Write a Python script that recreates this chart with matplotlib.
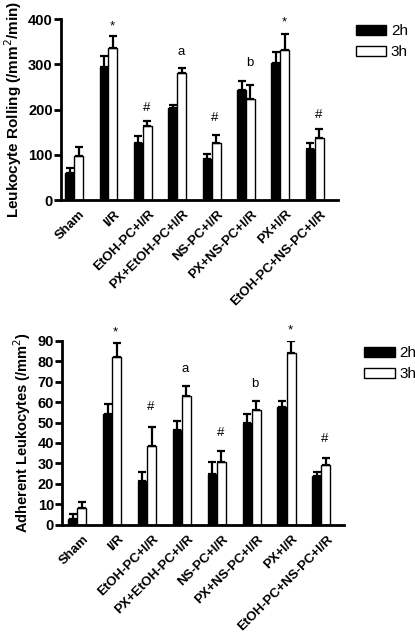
import numpy as np
import matplotlib
matplotlib.use("Agg")
import matplotlib.pyplot as plt

plt.rcParams['font.family'] = ['Liberation Sans', 'DejaVu Sans']

groups = ["Sham", "I/R", "EtOH-PC+I/R", "PX+EtOH-PC+I/R", "NS-PC+I/R",
          "PX+NS-PC+I/R", "PX+I/R", "EtOH-PC+NS-PC+I/R"]

# Leukocyte rolling (/mm2/min)
roll_2h = [60, 294, 125, 204, 91, 243, 303, 112]
roll_2h_err = [10, 25, 16, 7, 11, 21, 25, 15]
roll_3h = [98, 337, 163, 280, 127, 224, 331, 136]
roll_3h_err = [20, 25, 12, 11, 17, 31, 36, 21]
roll_marks = ["", "*", "#", "a", "#", "b", "*", "#"]
roll_mark_y = [0, 384, 203, 327, 181, 303, 393, 188]

# Adherent leukocytes (/mm2)
adh_2h = [3, 54, 21.5, 46.3, 25, 49.6, 57.7, 23.8]
adh_2h_err = [2.5, 5, 4.5, 4.5, 5.5, 4.5, 2.8, 2.2]
adh_3h = [8, 82, 38.5, 63, 30.8, 56, 83.8, 29.2]
adh_3h_err = [3.2, 6.7, 9.5, 5, 5.2, 4.7, 6.2, 3.3]
adh_marks = ["", "*", "#", "a", "#", "b", "*", "#"]
adh_mark_y = [0, 94, 57.7, 76, 45, 69, 95, 42]

fig = plt.figure(figsize=(4.15, 6.38), dpi=100)


def panel(rect, v2, e2, v3, e3, marks, mark_y, ylim, yticks, ylabel, ylabel_size,
          xlim, leg_anchor):
    ax = fig.add_axes(rect)
    x = np.arange(len(groups))
    w = 0.26
    ax.bar(x - w / 2, v2, w, color="black", edgecolor="black", linewidth=1, label="2h", zorder=2)
    ax.bar(x + w / 2, v3, w, color="white", edgecolor="black", linewidth=1, label="3h", zorder=2)
    ax.errorbar(x - w / 2, v2, yerr=[np.zeros(len(v2)), e2], fmt="none", ecolor="black",
                elinewidth=1.6, capsize=3, capthick=1.6, zorder=3)
    ax.errorbar(x + w / 2, v3, yerr=[np.zeros(len(v3)), e3], fmt="none", ecolor="black",
                elinewidth=1.6, capsize=3, capthick=1.6, zorder=3)
    for xi, m, my in zip(x, marks, mark_y):
        if m:
            ax.text(xi + 0.1, my, m, ha="center", va="center", fontsize=9.5)
    ax.set_xlim(*xlim)
    ax.set_ylim(*ylim)
    ax.set_yticks(yticks)
    ax.set_xticks(x + 0.15)
    ax.set_xticklabels(groups, rotation=45, ha="right", rotation_mode="anchor",
                       fontsize=9.5, fontweight="bold")
    ax.tick_params(axis="x", length=0, pad=6)
    ax.tick_params(axis="y", length=5, width=2, labelsize=10.5, pad=1)
    for lab in ax.get_yticklabels():
        lab.set_fontweight("bold")
    ax.spines["top"].set_visible(False)
    ax.spines["right"].set_visible(False)
    ax.spines["left"].set_linewidth(2)
    ax.spines["bottom"].set_linewidth(2)
    ax.set_ylabel(ylabel, fontsize=ylabel_size, fontweight="bold", labelpad=3)
    ax.legend(loc="upper left", bbox_to_anchor=leg_anchor, frameon=False, fontsize=11,
              borderaxespad=0, borderpad=0, handlelength=2.0, handleheight=0.6,
              handletextpad=0.3, labelspacing=0.45)
    return ax


panel([0.147, 0.6865, 0.667, 0.2837], roll_2h, roll_2h_err, roll_3h, roll_3h_err,
      roll_marks, roll_mark_y, (0, 400), [0, 100, 200, 300, 400],
      "Leukocyte Rolling (/mm$^2$/min)", 11, (-0.38, 7.67), (1.065, 0.97))

panel([0.15, 0.1775, 0.68, 0.2884], adh_2h, adh_2h_err, adh_3h, adh_3h_err,
      adh_marks, adh_mark_y, (0, 90), list(range(0, 91, 10)),
      "Adherent Leukocytes (/mm$^2$)", 10.5, (-0.43, 7.66), (1.07, 0.97))

fig.savefig("out.png", dpi=100)
